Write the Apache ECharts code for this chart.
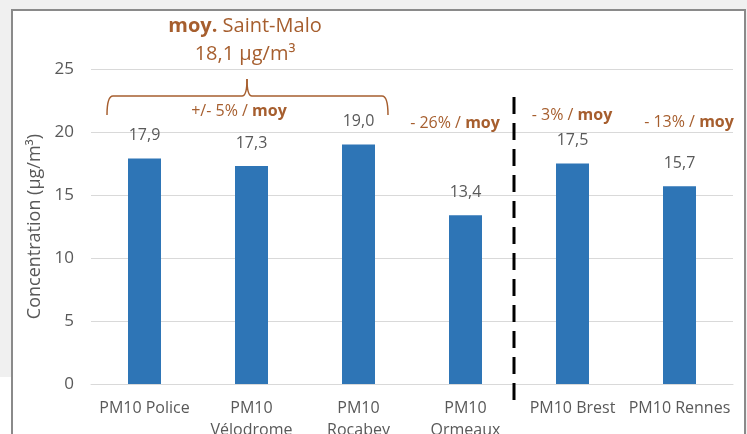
<!DOCTYPE html>
<html>
<head>
<meta charset="utf-8">
<script src="https://cdn.jsdelivr.net/npm/echarts@6/dist/echarts.min.js"></script>
<style>
  html, body { margin: 0; padding: 0; background: #f0f0f0; }
  #main { width: 747px; height: 434px; }
</style>
</head>
<body>
<div id="main"></div>
<script>
// categories (stations) and mean PM10 concentrations
const stations = ['PM10 Police', 'PM10\nVélodrome', 'PM10\nRocabey', 'PM10\nOrmeaux', 'PM10 Brest', 'PM10 Rennes'];
const concentrations = [17.9, 17.3, 19.0, 13.4, 17.5, 15.7];
const yTicks = [0, 5, 10, 15, 20, 25];

const brown = '#a65e2e';
const grey = '#595959';
const font = 'Open Sans, Liberation Sans, sans-serif';

let chart = echarts.init(document.getElementById('main'));

// petits segments de l'accolade
function brace(type, shape) {
    return { type: type, shape: shape, style: { fill: 'none', stroke: brown, lineWidth: 1.5 } };
}
// texte d'écart à la moyenne ("moy" en gras)
function note(x, y, txt) {
    return {
        type: 'text', x: x, y: y,
        style: {
            text: txt,
            rich: { b: { fontWeight: 'bold', fontSize: 16, fill: brown, fontFamily: font } },
            fill: brown, fontSize: 16, fontFamily: font, align: 'center', verticalAlign: 'middle'
        }
    };
}

const option = {
    backgroundColor: 'transparent',
    animation: false,
    textStyle: { fontFamily: font },
    grid: { left: 91, right: 14, top: 69, bottom: 50, outerBoundsMode: 'none', containLabel: false },
    xAxis: {
        type: 'category',
        data: stations,
        axisLine: { lineStyle: { color: '#d9d9d9', width: 1 } },
        axisTick: { show: false },
        axisLabel: { color: grey, fontSize: 16, margin: 13, lineHeight: 22, interval: 0 }
    },
    yAxis: {
        type: 'value',
        min: yTicks[0],
        max: yTicks[yTicks.length - 1],
        interval: 5,
        name: 'Concentration (µg/m³)',
        nameLocation: 'middle',
        nameGap: 45,
        nameRotate: 90,
        nameTextStyle: { color: grey, fontSize: 18 },
        axisLine: { show: false },
        axisTick: { show: false },
        axisLabel: { color: grey, fontSize: 17, margin: 17 },
        splitLine: { lineStyle: { color: '#d9d9d9', width: 1 } }
    },
    series: [{
        type: 'bar',
        data: concentrations,
        barWidth: 33,
        itemStyle: { color: '#2e75b6' },
        label: {
            show: true,
            position: 'top',
            distance: 15,
            color: grey,
            fontSize: 16,
            formatter: function (p) { return p.value.toFixed(1).replace('.', ','); }
        }
    }],
    graphic: [
        // white patch bottom-left + chart frame
        { type: 'rect', shape: { x: 0, y: 377, width: 12, height: 60 }, style: { fill: '#ffffff' }, z: -2 },
        { type: 'rect', shape: { x: 12, y: 10, width: 733, height: 430 }, style: { fill: '#ffffff', stroke: '#8a8a8a', lineWidth: 2 }, z: -1 },
        // moyenne Saint-Malo
        {
            type: 'text', x: 245, y: 26,
            style: {
                text: '{b|moy.} Saint-Malo',
                rich: { b: { fontWeight: 'bold', fontSize: 20, fill: brown, fontFamily: font } },
                fill: brown, fontSize: 20, fontFamily: font, align: 'center', verticalAlign: 'middle'
            }
        },
        {
            type: 'text', x: 245, y: 54,
            style: { text: '18,1 µg/m³', fill: brown, fontSize: 20, fontFamily: font, align: 'center', verticalAlign: 'middle' }
        },
        // accolade au-dessus des stations de Saint-Malo
        brace('bezierCurve', { x1: 107, y1: 115, cpx1: 107, cpy1: 96, x2: 113, y2: 96 }),
        brace('line', { x1: 113, y1: 96, x2: 242, y2: 96 }),
        brace('bezierCurve', { x1: 242, y1: 96, cpx1: 247, cpy1: 96, x2: 247, y2: 79 }),
        brace('bezierCurve', { x1: 247, y1: 79, cpx1: 247, cpy1: 96, x2: 252, y2: 96 }),
        brace('line', { x1: 252, y1: 96, x2: 382, y2: 96 }),
        brace('bezierCurve', { x1: 382, y1: 96, cpx1: 388, cpy1: 96, x2: 388, y2: 115 }),
        note(239, 111, '+/- 5% / {b|moy}'),
        note(455, 123, '- 26% / {b|moy}'),
        note(572, 115, '- 3% / {b|moy}'),
        note(689, 122, '- 13% / {b|moy}'),
        // séparation Saint-Malo / autres villes
        {
            type: 'line',
            shape: { x1: 514, y1: 97, x2: 514, y2: 408 },
            style: { stroke: '#000000', lineWidth: 3, lineDash: [17, 9] },
            z: 10
        }
    ]
};

chart.setOption(option);
</script>
</body>
</html>
